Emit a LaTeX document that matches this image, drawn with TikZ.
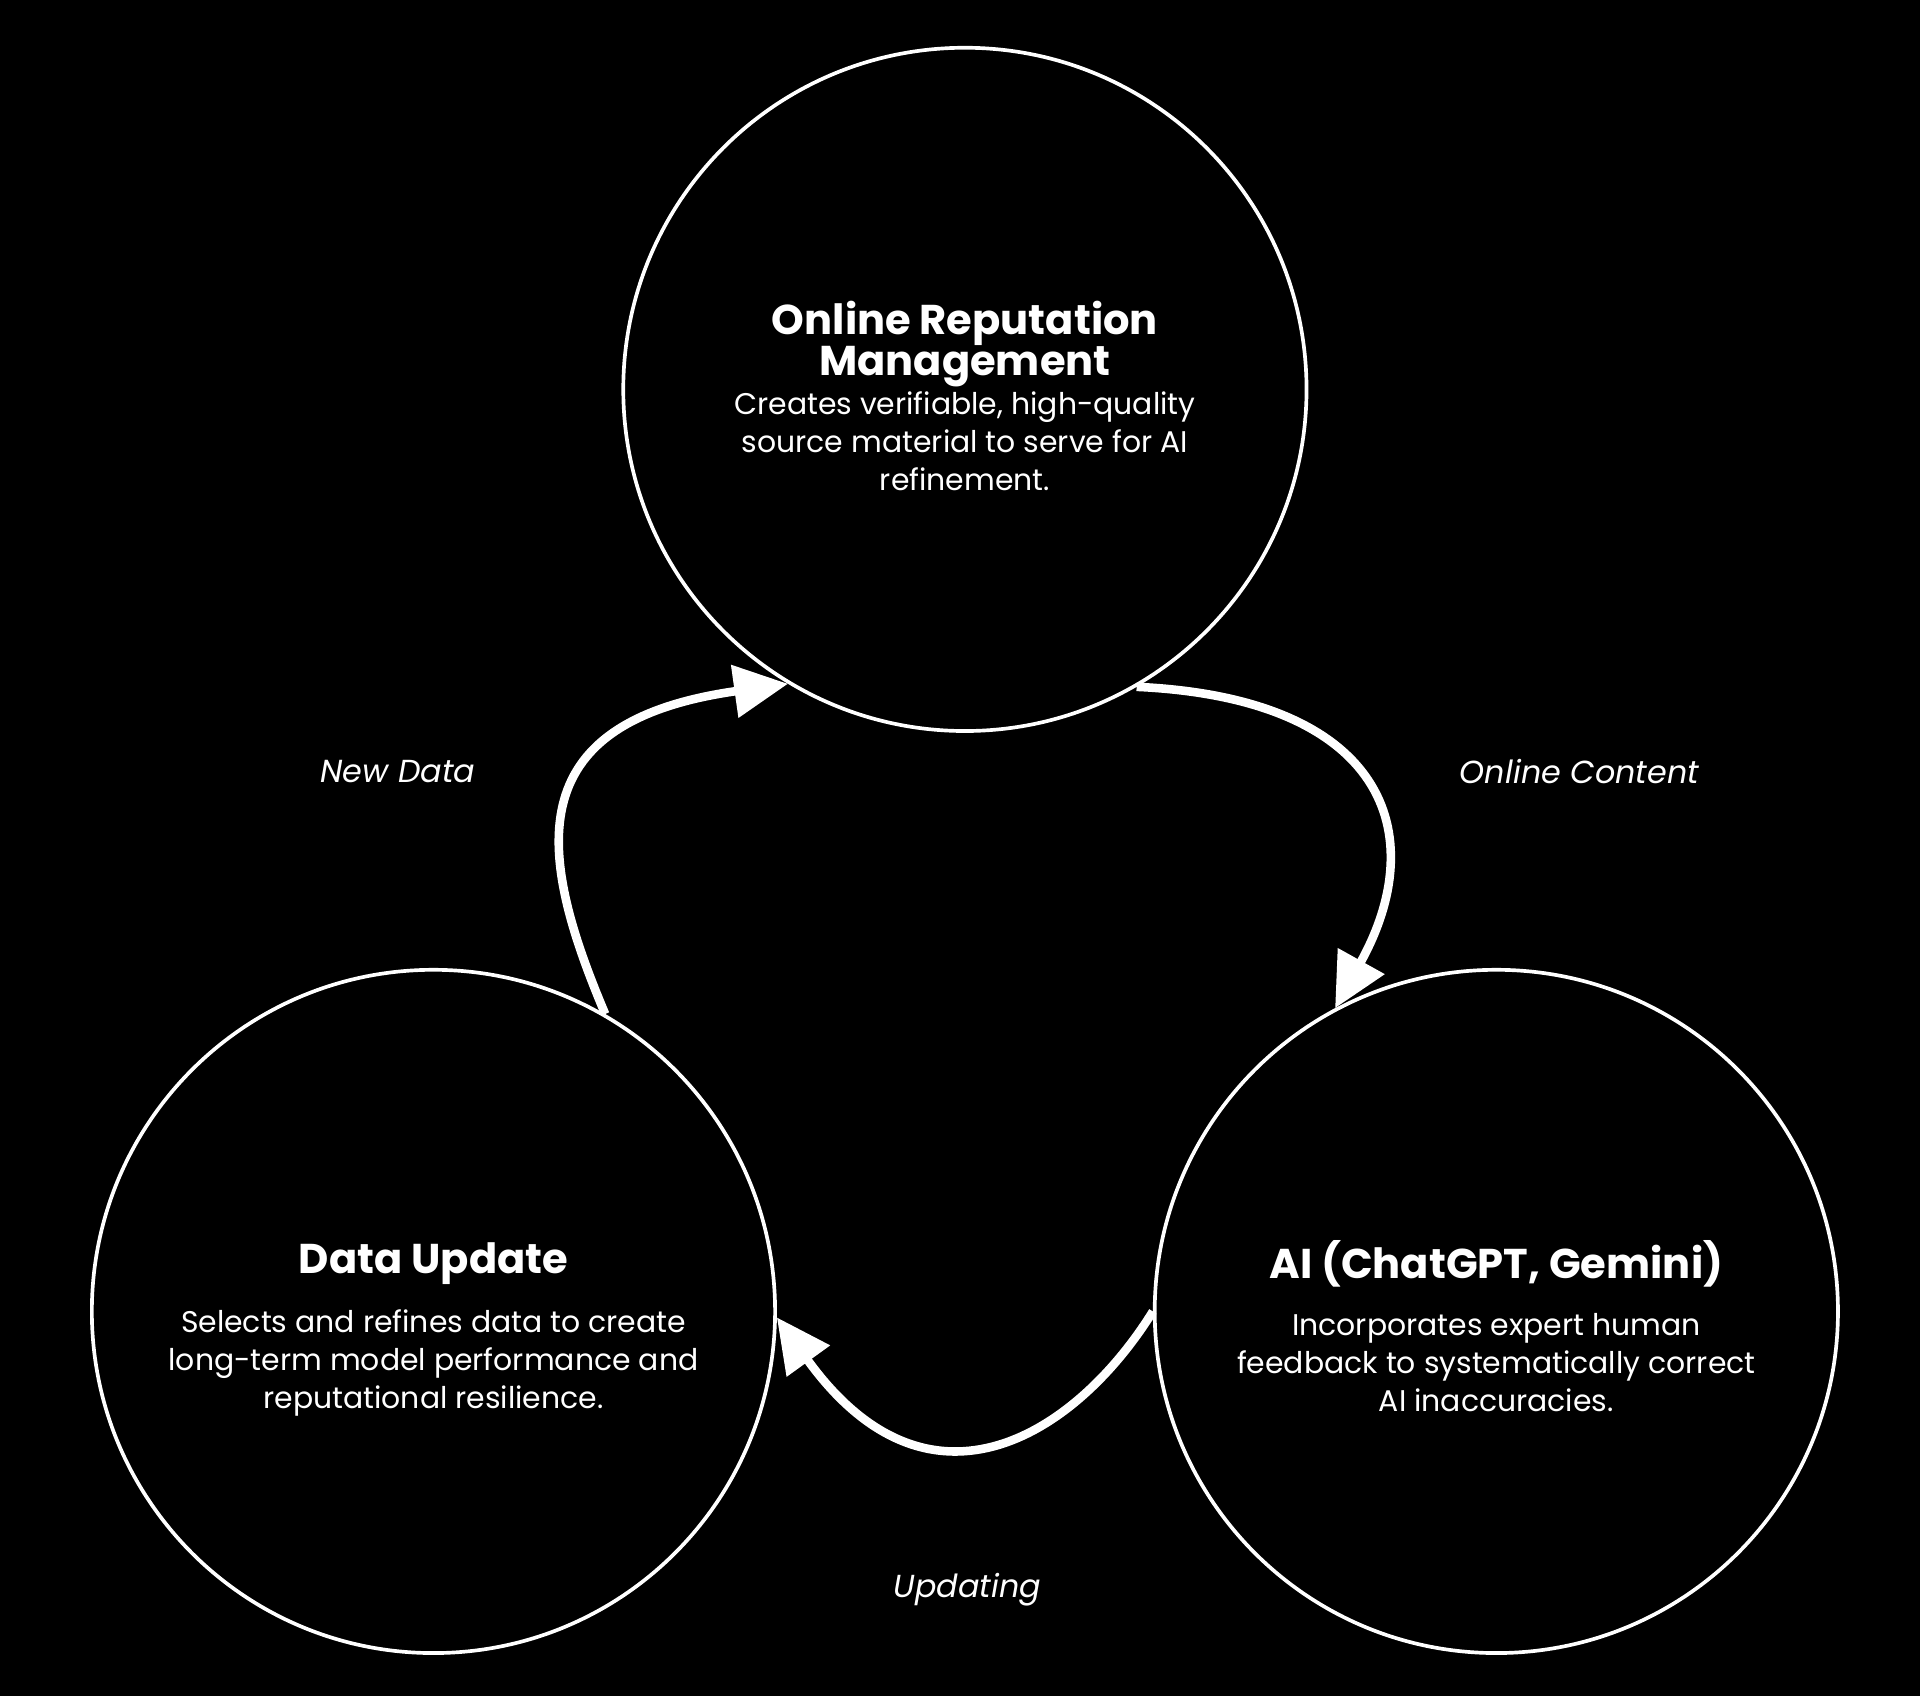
\documentclass[tikz,border=0pt]{standalone}
\usepackage{fontspec}
\setmainfont{Poppins}
\usetikzlibrary{arrows.meta}
\begin{document}
\begin{tikzpicture}[x=0.5pt,y=-0.5pt,
  circ/.style={circle,draw=white,line width=1.5pt,minimum size=279pt,inner sep=0pt},
  ttl/.style={text=white,font=\fontsize{17}{20}\selectfont\bfseries,align=center},
  body/.style={text=white,font=\fontsize{12.2}{15.5}\selectfont,align=center},
  lab/.style={text=white,font=\fontsize{13}{16}\selectfont\itshape},
  arr/.style={draw=white,line width=3.5pt,-{Triangle[length=22pt,width=21pt]}}]
\fill[black] (0,0) rectangle (1568,1385);
\useasboundingbox (0,0) rectangle (1568,1385);
\node[circ] (top) at (788,318) {};
\node[circ] (left) at (354,1071) {};
\node[circ] (right) at (1222,1071) {};
\node[ttl] (t1) at (788,281) {Online Reputation\\[-3pt]Management};
\node[body] (b1) at (788,360) {Creates verifiable, high-quality\\source material to serve for AI\\refinement.};
\node[ttl] (t2) at (354,1032) {Data Update};
\node[body] (b2) at (354,1113) {Selects and refines data to create\\long-term model performance and\\reputational resilience.};
\node[ttl] (t3) at (1222,1032) {AI (ChatGPT, Gemini)};
\node[body] (b3) at (1222,1113) {Incorporates expert human\\feedback to systematically correct\\AI inaccuracies.};
\node[lab] (l1) at (325,630) {New Data};
\node[lab] (l2) at (1290,630) {Online Content};
\node[lab] (l3) at (790,1298) {Updating};
\draw[arr] (left.60) .. controls (440,700) and (420,590) .. (top.239);
\draw[arr] (top.300) .. controls (1130,570) and (1170,680) .. (right.118);
\draw[arr] (right.180) .. controls (880,1170) and (760,1250) .. (left.-1);
\end{tikzpicture}
\end{document}
